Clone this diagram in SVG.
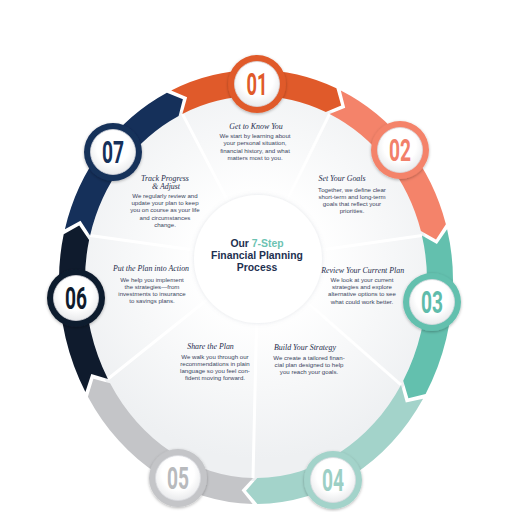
<svg xmlns="http://www.w3.org/2000/svg" width="512" height="512" viewBox="0 0 512 512">
<defs>
<radialGradient id="panel" cx="258" cy="259" r="200" gradientUnits="userSpaceOnUse">
<stop offset="0.3" stop-color="#ffffff"/>
<stop offset="1" stop-color="#eef0f2"/>
</radialGradient>
<radialGradient id="face" cx="0.5" cy="0.4" r="0.6">
<stop offset="0.6" stop-color="#ffffff"/>
<stop offset="1" stop-color="#e9eaec"/>
</radialGradient>
<filter id="sh" x="-30%" y="-30%" width="160%" height="160%">
<feDropShadow dx="0" dy="1" stdDeviation="1.6" flood-color="#000" flood-opacity="0.3"/>
</filter>
<filter id="csh" x="-20%" y="-20%" width="140%" height="140%">
<feDropShadow dx="0" dy="0" stdDeviation="2" flood-color="#8a94a6" flood-opacity="0.25"/>
</filter>
</defs>
<style>
.sep{stroke:#ffffff;stroke-width:3;fill:none}
.face{fill:url(#face);stroke:#d9dbdf;stroke-width:0.8}
.num{font-family:Roboto,"Liberation Sans",sans-serif;font-weight:bold;font-size:31px;text-anchor:middle}
.hd{font-family:"Liberation Serif",serif;font-style:italic;font-size:7.9px;fill:#1f2d4d;text-anchor:middle}
.bd{font-family:"Liberation Sans",Arial,sans-serif;font-size:6.1px;fill:#3a4560;text-anchor:middle}
.ct{font-family:"Liberation Sans",Arial,sans-serif;font-weight:bold;font-size:10.4px;fill:#1e3050;text-anchor:middle}
</style>
<rect width="512" height="512" fill="#ffffff"/>
<g id="panels">
<path d="M256,93 A174,187 0 0 1 430,280 A174,201 0 0 1 256,481 A174,201 0 0 1 82,280 A174,187 0 0 1 256,93 Z" fill="url(#panel)"/>
</g>
<g id="connectors">
<line class="sep" x1="258" y1="259" x2="182.4" y2="113.9"/>
<line class="sep" x1="258" y1="259" x2="329.6" y2="113.9"/>
<line class="sep" x1="258" y1="259" x2="421.9" y2="235.5"/>
<line class="sep" x1="258" y1="259" x2="401.0" y2="384.9"/>
<line class="sep" x1="258" y1="259" x2="253.0" y2="478.0"/>
<line class="sep" x1="258" y1="259" x2="107.9" y2="379.0"/>
<line class="sep" x1="258" y1="259" x2="90.1" y2="235.5"/>
</g>
<g id="center">
<circle cx="258" cy="259" r="64" fill="#ffffff" filter="url(#csh)"/>
<text class="ct" x="257" y="246.5">Our <tspan fill="#6cc3b2">7-Step</tspan></text>
<text class="ct" x="257" y="258.5">Financial Planning</text>
<text class="ct" x="257" y="270.5">Process</text>
</g>
<g id="step1">
<path fill="#e05a2a" d="M171.2,90.5 A197,210 0 0 1 336.4,88.3 L341.2,105.4 L325.8,112.0 A171,184 0 0 0 182.4,113.9 L187.1,97.3 Z"/>
<g filter="url(#sh)"><circle cx="257" cy="84" r="29" fill="#e05a2a"/><circle class="face" cx="257" cy="84" r="22.5"/></g>
<text class="num" x="257" y="95.3" fill="#e05a2a" textLength="21" lengthAdjust="spacingAndGlyphs">01</text>
<text class="hd" x="256" y="128.8">Get to Know You</text>
<text class="bd" x="255" y="138.3">We start by learning about</text>
<text class="bd" x="255" y="145.4">your personal situation,</text>
<text class="bd" x="255" y="152.5">financial history, and what</text>
<text class="bd" x="255" y="159.6">matters most to you.</text>
</g>
<g id="step2">
<path fill="#f4836a" d="M340.8,90.5 A197,210 0 0 1 445.9,224.2 L436.0,239.4 L420.9,231.1 A171,184 0 0 0 329.6,113.9 L345.2,107.7 Z"/>
<g filter="url(#sh)"><circle cx="400" cy="150" r="29" fill="#f4836a"/><circle class="face" cx="400" cy="150" r="22.5"/></g>
<text class="num" x="400" y="161.3" fill="#f2806a" textLength="22" lengthAdjust="spacingAndGlyphs">02</text>
<text class="hd" x="342" y="180.8">Set Your Goals</text>
<text class="bd" x="352" y="191.5">Together, we define clear</text>
<text class="bd" x="352" y="198.6">short-term and long-term</text>
<text class="bd" x="352" y="205.7">goals that reflect your</text>
<text class="bd" x="352" y="212.8">priorities.</text>
</g>
<g id="step3">
<path fill="#63c0ae" d="M447.1,229.2 A197,210 0 0 1 453,280 A197,224 0 0 1 425.6,394.0 L408.4,398.3 L403.2,380.8 A171,198 0 0 0 427,280 A171,184 0 0 0 421.9,235.5 L436.9,244.1 Z"/>
<g filter="url(#sh)"><circle cx="432" cy="302" r="29" fill="#63c0ae"/><circle class="face" cx="432" cy="302" r="22.5"/></g>
<text class="num" x="432" y="313.3" fill="#5fbcab" textLength="22" lengthAdjust="spacingAndGlyphs">03</text>
<text class="hd" x="362.7" y="272.7">Review Your Current Plan</text>
<text class="bd" x="362" y="282.2">We look at your current</text>
<text class="bd" x="362" y="289.3">strategies and explore</text>
<text class="bd" x="362" y="296.4">alternative options to see</text>
<text class="bd" x="362" y="303.5">what could work better.</text>
</g>
<g id="step4">
<path fill="#a3d3ca" d="M423.1,398.7 A197,224 0 0 1 257.4,504.0 L246.0,490.7 L257.2,478.0 A171,198 0 0 0 401.0,384.9 L405.8,402.5 Z"/>
<g filter="url(#sh)"><circle cx="333" cy="480" r="29" fill="#a3d3ca"/><circle class="face" cx="333" cy="480" r="22.5"/></g>
<text class="num" x="333" y="491.3" fill="#9ccfc5" textLength="22" lengthAdjust="spacingAndGlyphs">04</text>
<text class="hd" x="305" y="350">Build Your Strategy</text>
<text class="bd" x="309" y="359.9">We create a tailored finan-</text>
<text class="bd" x="309" y="367">cial plan designed to help</text>
<text class="bd" x="309" y="374.1">you reach your goals.</text>
</g>
<g id="step5">
<path fill="#c4c5c8" d="M252.6,504.0 A197,224 0 0 1 87.9,396.7 L93.4,378.7 L110.1,383.2 A171,198 0 0 0 253.0,478.0 L241.6,490.3 Z"/>
<g filter="url(#sh)"><circle cx="178" cy="478" r="29" fill="#c4c5c8"/><circle class="face" cx="178" cy="478" r="22.5"/></g>
<text class="num" x="178" y="489.3" fill="#b8babd" textLength="22" lengthAdjust="spacingAndGlyphs">05</text>
<text class="hd" x="210.5" y="349.4">Share the Plan</text>
<text class="bd" x="215" y="358.9">We walk you through our</text>
<text class="bd" x="215" y="366">recommendations in plain</text>
<text class="bd" x="215" y="373.1">language so you feel con-</text>
<text class="bd" x="215" y="380.2">fident moving forward.</text>
</g>
<g id="step6">
<path fill="#0f1b2d" d="M85.4,392.0 A197,224 0 0 1 59,280 A197,210 0 0 1 63.7,234.2 L79.2,225.4 L89.1,239.9 A171,184 0 0 0 85,280 A171,198 0 0 0 107.9,379.0 L91.3,374.1 Z"/>
<g filter="url(#sh)"><circle cx="76" cy="298" r="29" fill="#0f1b2d"/><circle class="face" cx="76" cy="298" r="22.5"/></g>
<text class="num" x="76" y="309.3" fill="#0f1b2d" textLength="22" lengthAdjust="spacingAndGlyphs">06</text>
<text class="hd" x="151" y="271">Put the Plan into Action</text>
<text class="bd" x="152" y="281.5">We help you implement</text>
<text class="bd" x="152" y="288.6">the strategies—from</text>
<text class="bd" x="152" y="295.7">investments to insurance</text>
<text class="bd" x="152" y="302.8">to savings plans.</text>
</g>
<g id="step7">
<path fill="#15305a" d="M64.9,229.2 A197,210 0 0 1 166.9,92.7 L182.9,99.2 L178.6,115.9 A171,184 0 0 0 90.1,235.5 L80.5,220.8 Z"/>
<g filter="url(#sh)"><circle cx="113" cy="152" r="29" fill="#15305a"/><circle class="face" cx="113" cy="152" r="22.5"/></g>
<text class="num" x="113" y="163.3" fill="#15305a" textLength="22" lengthAdjust="spacingAndGlyphs">07</text>
<text class="hd" x="165" y="181">Track Progress</text>
<text class="hd" x="166" y="189.4">&amp; Adjust</text>
<text class="bd" x="165" y="198.2">We regularly review and</text>
<text class="bd" x="165" y="205.3">update your plan to keep</text>
<text class="bd" x="165" y="212.4">you on course as your life</text>
<text class="bd" x="165" y="219.5">and circumstances</text>
<text class="bd" x="165" y="226.6">change.</text>
</g>
</svg>
